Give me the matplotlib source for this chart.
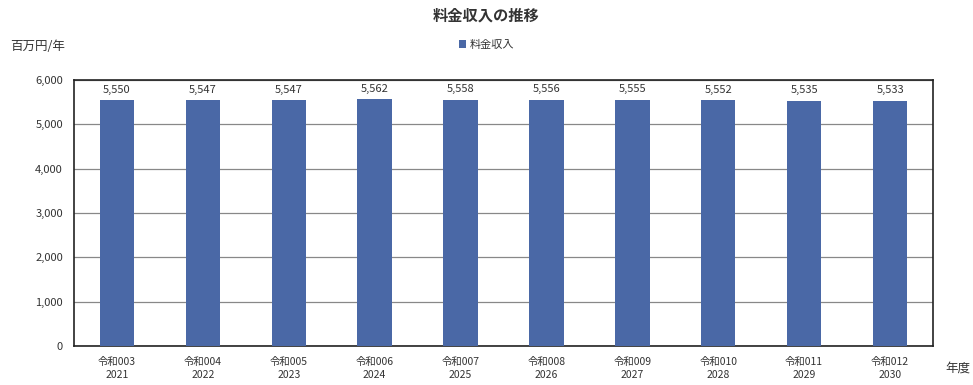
import matplotlib
matplotlib.use('Agg')
import matplotlib.pyplot as plt
import numpy as np

plt.rcParams['font.family'] = ['Noto Sans CJK JP', 'DejaVu Sans']

# data
fiscal_labels = ['令和003', '令和004', '令和005', '令和006', '令和007',
                 '令和008', '令和009', '令和010', '令和011', '令和012']
years = ['2021', '2022', '2023', '2024', '2025', '2026', '2027', '2028', '2029', '2030']
revenue = [5550, 5547, 5547, 5562, 5558, 5556, 5555, 5552, 5535, 5533]

bar_color = '#4a68a6'
text_color = '#333333'

fig = plt.figure(figsize=(9.73, 3.85), dpi=100)
ax = fig.add_axes([74 / 973, 1 - 346 / 385, (933 - 74) / 973, (346 - 80) / 385])

x = np.arange(len(revenue))
bars = ax.bar(x, revenue, width=0.4, color=bar_color, label='料金収入', zorder=3)

for xi, v in zip(x, revenue):
    ax.text(xi, v + 120, f'{v:,}', ha='center', va='bottom', fontsize=8, color=text_color)

ax.set_xlim(-0.5, len(revenue) - 0.5)
ax.set_ylim(0, 6000)
ax.set_yticks(np.arange(0, 6001, 1000))
ax.set_yticklabels([f'{t:,}' for t in range(0, 6001, 1000)], fontsize=8, color=text_color)
ax.set_xticks(x)
ax.set_xticklabels([f'{a}\n{b}' for a, b in zip(fiscal_labels, years)],
                   fontsize=7.5, color=text_color, linespacing=1.3)
ax.tick_params(axis='both', length=0, pad=8)
ax.grid(axis='y', color='#888888', linewidth=0.9, zorder=0)

for spine in ax.spines.values():
    spine.set_color('#222222')
    spine.set_linewidth(1.2)

fig.text(0.5, 1 - 16 / 385, '料金収入の推移', ha='center', va='center',
         fontsize=11, fontweight='bold', color=text_color)
fig.legend(handles=[bars], labels=['料金収入'], loc='center',
           bbox_to_anchor=(0.5, 1 - 45 / 385), frameon=False, fontsize=8,
           handlelength=0.7, handleheight=0.7, handletextpad=0.3,
           labelcolor=text_color)
fig.text(10 / 973, 1 - 47 / 385, '百万円/年', ha='left', va='center',
         fontsize=9, color=text_color)
fig.text(945 / 973, 1 - 368 / 385, '年度', ha='left', va='center',
         fontsize=9, color=text_color)

fig.savefig('out.png', dpi=100, facecolor='white')
